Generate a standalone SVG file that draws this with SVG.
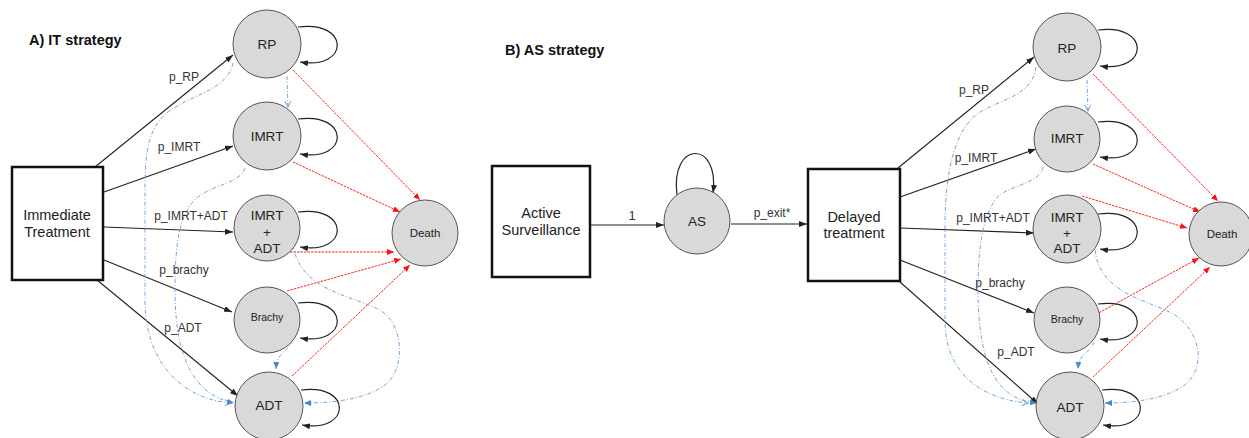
<svg xmlns="http://www.w3.org/2000/svg" width="1249" height="438" viewBox="0 0 1249 438">
<style>
text{font-family:"Liberation Sans",Arial,sans-serif;fill:#222}
.title{font-size:14.5px;font-weight:bold;fill:#111}
.st{fill:#d9d9d9;stroke:#555;stroke-width:1}
.box{fill:#fff;stroke:#111;stroke-width:2.5}
.nl{font-size:13.5px;text-anchor:middle}
.bl{font-size:14.5px;text-anchor:middle}
.el{font-size:12px;text-anchor:middle;fill:#333}
.blk{fill:none;stroke:#222;stroke-width:1.1}
.loop{fill:none;stroke:#222;stroke-width:1.2}
.red{fill:none;stroke:#f22;stroke-width:1;stroke-dasharray:2.5,1}
.blue{fill:none;stroke:#78a4d8;stroke-width:1;stroke-dasharray:4,2,1,2}
</style>
<defs>
<marker id="ab" markerUnits="userSpaceOnUse" markerWidth="8" markerHeight="6" refX="8" refY="3" orient="auto"><path d="M0,0 L8,3 L0,6 z" fill="#222"/></marker>
<marker id="ar" markerUnits="userSpaceOnUse" markerWidth="7" markerHeight="6" refX="7" refY="3" orient="auto"><path d="M0,0 L7,3 L0,6 z" fill="#f11"/></marker>
<marker id="abl" markerUnits="userSpaceOnUse" markerWidth="7" markerHeight="6" refX="7" refY="3" orient="auto"><path d="M0,0 L7,3 L0,6 z" fill="#4a86d0"/></marker>
<marker id="abo" markerUnits="userSpaceOnUse" markerWidth="8" markerHeight="8" refX="7" refY="4" orient="auto"><path d="M1,1 L7,4 L1,7" fill="none" stroke="#78a4d8" stroke-width="1"/></marker>
</defs>

<text class="title" x="29" y="45">A) IT strategy</text>
<text class="title" x="505" y="55">B) AS strategy</text>

<g id="connectors">
<!-- Left: black -->
<path class="blk" d="M95,167 L233,55" marker-end="url(#ab)"/>
<path class="blk" d="M104,192 L233,146" marker-end="url(#ab)"/>
<path class="blk" d="M104,227 L233,232" marker-end="url(#ab)"/>
<path class="blk" d="M104,260 L232,312" marker-end="url(#ab)"/>
<path class="blk" d="M97,280 L238,396" marker-end="url(#ab)"/>
<!-- Left loops -->
<path class="loop" d="M298,27 C350,20 350,70 300,62" marker-end="url(#ab)"/>
<path class="loop" d="M298,119 C350,112 350,162 300,154" marker-end="url(#ab)"/>
<path class="loop" d="M298,212 C350,205 350,255 300,247" marker-end="url(#ab)"/>
<path class="loop" d="M298,303 C350,296 350,346 300,338" marker-end="url(#ab)"/>
<path class="loop" d="M301,390 C352,383 352,433 302,425" marker-end="url(#ab)"/>
<!-- Left red -->
<path class="red" d="M293,70 L420,200" marker-end="url(#ar)"/>
<path class="red" d="M293,162 L400,212" marker-end="url(#ar)"/>
<path class="red" d="M283,252 L394,252" marker-end="url(#ar)"/>
<path class="red" d="M287,291 L401,259" marker-end="url(#ar)"/>
<path class="red" d="M292,376 L410,265" marker-end="url(#ar)"/>
<!-- Left blue -->
<path class="blue" d="M287,76 L288,107" marker-end="url(#abo)"/>
<path class="blue" d="M233,63 C228,90 190,95 168,112 C145,130 145,160 145,200 L145,300 C145,370 190,400 231,403" marker-end="url(#abo)"/>
<path class="blue" d="M245,168 C240,185 205,185 192,203 C178,220 175,250 175,290 C175,360 195,395 234,403" marker-end="url(#abl)"/>
<path class="blue" d="M293,245 C300,290 350,295 380,310 C405,325 405,370 385,385 C365,400 330,403 304,403" marker-end="url(#abl)"/>
<path class="blue" d="M292,340 C290,352 277,350 276,369" marker-end="url(#abl)"/>

<!-- Middle -->
<path class="blk" d="M590,225 L664,225" stroke-width="0.9" marker-end="url(#ab)"/>
<path class="loop" d="M677,195 C670,140 720,140 713,193" marker-end="url(#ab)"/>
<path class="blk" d="M731,224 L807,224" stroke-width="0.9" marker-end="url(#ab)"/>

<!-- Right: black -->
<path class="blk" d="M898,168 L1034,57" marker-end="url(#ab)"/>
<path class="blk" d="M900,197 L1036,149" marker-end="url(#ab)"/>
<path class="blk" d="M900,228 L1034,233" marker-end="url(#ab)"/>
<path class="blk" d="M900,260 L1034,313" marker-end="url(#ab)"/>
<path class="blk" d="M900,282 L1038,404" marker-end="url(#ab)"/>
<!-- Right loops -->
<path class="loop" d="M1098,30 C1150,23 1150,73 1100,66" marker-end="url(#ab)"/>
<path class="loop" d="M1098,122 C1150,115 1150,165 1100,157" marker-end="url(#ab)"/>
<path class="loop" d="M1098,214 C1150,207 1150,257 1100,249" marker-end="url(#ab)"/>
<path class="loop" d="M1098,304 C1150,297 1150,347 1100,339" marker-end="url(#ab)"/>
<path class="loop" d="M1102,390 C1153,383 1153,433 1103,425" marker-end="url(#ab)"/>
<!-- Right red -->
<path class="red" d="M1093,74 L1218,201" marker-end="url(#ar)"/>
<path class="red" d="M1093,164 L1200,212" marker-end="url(#ar)"/>
<path class="red" d="M1082,196 L1187,228" marker-end="url(#ar)"/>
<path class="red" d="M1093,316 L1199,258" marker-end="url(#ar)"/>
<path class="red" d="M1093,377 L1210,267" marker-end="url(#ar)"/>
<!-- Right blue -->
<path class="blue" d="M1087,80 L1088,111" marker-end="url(#abo)"/>
<path class="blue" d="M1036,67 C1033,95 1000,100 980,112 C955,128 946,170 945,220 L945,320 C945,380 990,400 1028,403" marker-end="url(#abo)"/>
<path class="blue" d="M1043,167 C1040,185 1005,185 995,200 C982,220 978,250 978,290 C978,370 1000,400 1037,403" marker-end="url(#abl)"/>
<path class="blue" d="M1095,250 C1100,295 1150,300 1175,315 C1205,335 1205,375 1180,388 C1160,400 1130,403 1105,403" marker-end="url(#abl)"/>
<path class="blue" d="M1094,342 C1090,354 1079,352 1078,369" marker-end="url(#abl)"/>

<!-- Edge labels -->
<text class="el" x="184" y="81">p_RP</text>
<text class="el" x="179" y="151">p_IMRT</text>
<text class="el" x="191" y="220">p_IMRT+ADT</text>
<text class="el" x="184" y="274">p_brachy</text>
<text class="el" x="183" y="332">p_ADT</text>
<text class="el" x="632" y="220" style="font-size:13px">1</text>
<text class="el" x="772" y="217">p_exit*</text>
<text class="el" x="974" y="94">p_RP</text>
<text class="el" x="976" y="162">p_IMRT</text>
<text class="el" x="993" y="222">p_IMRT+ADT</text>
<text class="el" x="1000" y="287">p_brachy</text>
<text class="el" x="1016" y="356">p_ADT</text>
</g>

<g id="immediate-treatment"><rect class="box" x="12" y="167" width="91" height="113"/><text class="bl" x="57" y="220">Immediate</text><text class="bl" x="57" y="237">Treatment</text></g>
<g id="it-rp"><circle class="st" cx="267" cy="44" r="34"/><text class="nl" x="267" y="49">RP</text></g>
<g id="it-imrt"><circle class="st" cx="267" cy="136" r="34"/><text class="nl" x="267" y="141">IMRT</text></g>
<g id="it-imrt-adt"><circle class="st" cx="267" cy="228" r="33"/><text class="nl" x="267" y="220">IMRT</text><text class="nl" x="267" y="237">+</text><text class="nl" x="267" y="253">ADT</text></g>
<g id="it-death"><circle class="st" cx="425" cy="233" r="33"/><text class="nl" x="425" y="237" style="font-size:11.5px">Death</text></g>
<g id="it-brachy"><circle class="st" cx="267" cy="320" r="33"/><text class="nl" x="267" y="321" style="font-size:10.5px">Brachy</text></g>
<g id="it-adt"><circle class="st" cx="269" cy="406" r="34"/><text class="nl" x="269" y="410">ADT</text></g>

<g id="active-surveillance"><rect class="box" x="492" y="166" width="98" height="111"/><text class="bl" x="541" y="218">Active</text><text class="bl" x="541" y="235">Surveillance</text></g>
<g id="as"><circle class="st" cx="697" cy="221" r="33"/><text class="nl" x="697" y="226">AS</text></g>
<g id="delayed-treatment"><rect class="box" x="808" y="169" width="92" height="112"/><text class="bl" x="854" y="222">Delayed</text><text class="bl" x="854" y="238">treatment</text></g>
<g id="as-rp"><circle class="st" cx="1067" cy="47" r="34"/><text class="nl" x="1067" y="53">RP</text></g>
<g id="as-imrt"><circle class="st" cx="1067" cy="139" r="33"/><text class="nl" x="1067" y="143">IMRT</text></g>
<g id="as-imrt-adt"><circle class="st" cx="1067" cy="229" r="34"/><text class="nl" x="1067" y="222">IMRT</text><text class="nl" x="1067" y="238">+</text><text class="nl" x="1067" y="253">ADT</text></g>
<g id="as-death"><circle class="st" cx="1221" cy="234" r="32"/><text class="nl" x="1222" y="238" style="font-size:11.5px">Death</text></g>
<g id="as-brachy"><circle class="st" cx="1067" cy="320" r="33"/><text class="nl" x="1067" y="323" style="font-size:10.5px">Brachy</text></g>
<g id="as-adt"><circle class="st" cx="1070" cy="406" r="34"/><text class="nl" x="1070" y="412">ADT</text></g>
</svg>
